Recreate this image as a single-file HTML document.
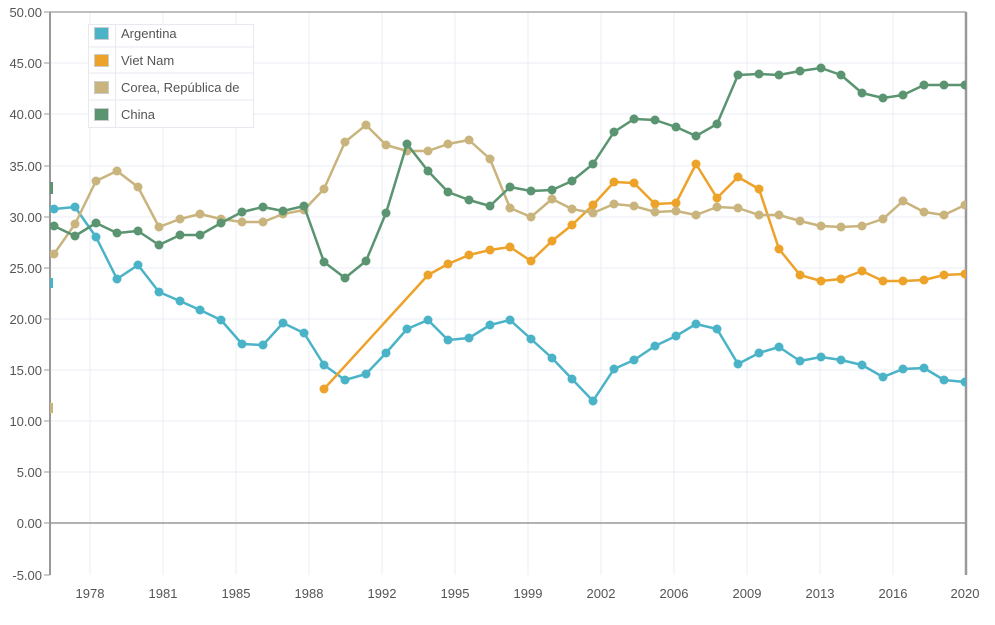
<!DOCTYPE html>
<html><head><meta charset="utf-8"><style>
html,body{margin:0;padding:0;background:#fff;}
text{font-family:"Liberation Sans","DejaVu Sans",sans-serif;font-size:13px;fill:#555;}
</style></head><body>
<svg width="995" height="620" xmlns="http://www.w3.org/2000/svg">
<defs>
<marker id="mA" markerWidth="10" markerHeight="10" refX="5" refY="5" markerUnits="userSpaceOnUse"><circle cx="5" cy="5" r="4.5" fill="#4bb3c8"/></marker>
<marker id="mV" markerWidth="10" markerHeight="10" refX="5" refY="5" markerUnits="userSpaceOnUse"><circle cx="5" cy="5" r="4.5" fill="#eda229"/></marker>
<marker id="mK" markerWidth="10" markerHeight="10" refX="5" refY="5" markerUnits="userSpaceOnUse"><circle cx="5" cy="5" r="4.5" fill="#c8b47c"/></marker>
<marker id="mC" markerWidth="10" markerHeight="10" refX="5" refY="5" markerUnits="userSpaceOnUse"><circle cx="5" cy="5" r="4.5" fill="#5a9470"/></marker>
<clipPath id="cp"><rect x="50" y="12" width="916" height="563"/></clipPath>
</defs>
<g stroke="#e8ecf4" stroke-width="1">
<line x1="50" y1="63" x2="966" y2="63"/><line x1="50" y1="114" x2="966" y2="114"/><line x1="50" y1="166" x2="966" y2="166"/><line x1="50" y1="217" x2="966" y2="217"/><line x1="50" y1="268" x2="966" y2="268"/><line x1="50" y1="319" x2="966" y2="319"/><line x1="50" y1="370" x2="966" y2="370"/><line x1="50" y1="421" x2="966" y2="421"/><line x1="50" y1="472" x2="966" y2="472"/>
<line x1="90" y1="12" x2="90" y2="575"/><line x1="163" y1="12" x2="163" y2="575"/><line x1="236" y1="12" x2="236" y2="575"/><line x1="309" y1="12" x2="309" y2="575"/><line x1="382" y1="12" x2="382" y2="575"/><line x1="455" y1="12" x2="455" y2="575"/><line x1="528" y1="12" x2="528" y2="575"/><line x1="601" y1="12" x2="601" y2="575"/><line x1="674" y1="12" x2="674" y2="575"/><line x1="747" y1="12" x2="747" y2="575"/><line x1="820" y1="12" x2="820" y2="575"/><line x1="893" y1="12" x2="893" y2="575"/>
</g>
<line x1="50" y1="523" x2="966" y2="523" stroke="#999" stroke-width="1.5"/>
<line x1="50" y1="12" x2="966" y2="12" stroke="#aaa" stroke-width="1.5"/>
<line x1="50" y1="12" x2="50" y2="575" stroke="#999" stroke-width="2"/>
<line x1="966" y1="12" x2="966" y2="575" stroke="#999" stroke-width="2.5"/>
<g stroke="#999" stroke-width="1"><line x1="44" y1="12" x2="50" y2="12"/><line x1="44" y1="63" x2="50" y2="63"/><line x1="44" y1="114" x2="50" y2="114"/><line x1="44" y1="166" x2="50" y2="166"/><line x1="44" y1="217" x2="50" y2="217"/><line x1="44" y1="268" x2="50" y2="268"/><line x1="44" y1="319" x2="50" y2="319"/><line x1="44" y1="370" x2="50" y2="370"/><line x1="44" y1="421" x2="50" y2="421"/><line x1="44" y1="472" x2="50" y2="472"/><line x1="44" y1="523" x2="50" y2="523"/><line x1="44" y1="575" x2="50" y2="575"/></g>
<g text-anchor="end">
<text x="42" y="17">50.00</text><text x="42" y="68">45.00</text><text x="42" y="119">40.00</text><text x="42" y="171">35.00</text><text x="42" y="222">30.00</text><text x="42" y="273">25.00</text><text x="42" y="324">20.00</text><text x="42" y="375">15.00</text><text x="42" y="426">10.00</text><text x="42" y="477">5.00</text><text x="42" y="528">0.00</text><text x="42" y="580">-5.00</text>
</g>
<g text-anchor="middle">
<text x="90" y="598">1978</text><text x="163" y="598">1981</text><text x="236" y="598">1985</text><text x="309" y="598">1988</text><text x="382" y="598">1992</text><text x="455" y="598">1995</text><text x="528" y="598">1999</text><text x="601" y="598">2002</text><text x="674" y="598">2006</text><text x="747" y="598">2009</text><text x="820" y="598">2013</text><text x="893" y="598">2016</text><text x="965" y="598">2020</text>
</g>
<g clip-path="url(#cp)" fill="none" stroke-width="2.5" stroke-linejoin="round">
<rect x="50" y="278" width="3" height="10" fill="#4bb3c8" stroke="none"/>
<rect x="50" y="182" width="3" height="12" fill="#5a9470" stroke="none"/>
<rect x="50" y="403" width="3" height="10" fill="#c8b47c" stroke="none"/>
<polyline stroke="#4bb3c8" marker-start="url(#mA)" marker-mid="url(#mA)" marker-end="url(#mA)" points="54,209 75,207 96,237 117,279 138,265 159,292 180,301 200,310 221,320 242,344 263,345 283,323 304,333 324,365 345,380 366,374 386,353 407,329 428,320 448,340 469,338 490,325 510,320 531,339 552,358 572,379 593,401 614,369 634,360 655,346 676,336 696,324 717,329 738,364 759,353 779,347 800,361 821,357 841,360 862,365 883,377 903,369 924,368 944,380 965,382"/>
<polyline stroke="#eda229" marker-start="url(#mV)" marker-mid="url(#mV)" marker-end="url(#mV)" points="324,389 428,275 448,264 469,255 490,250 510,247 531,261 552,241 572,225 593,205 614,182 634,183 655,204 676,203 696,164 717,198 738,177 759,189 779,249 800,275 821,281 841,279 862,271 883,281 903,281 924,280 944,275 965,274"/>
<polyline stroke="#c8b47c" marker-start="url(#mK)" marker-mid="url(#mK)" marker-end="url(#mK)" points="54,254 75,224 96,181 117,171 138,187 159,227 180,219 200,214 221,219 242,222 263,222 283,214 304,210 324,189 345,142 366,125 386,145 407,151 428,151 448,144 469,140 490,159 510,208 531,217 552,199 572,209 593,213 614,204 634,206 655,212 676,211 696,215 717,207 738,208 759,215 779,215 800,221 821,226 841,227 862,226 883,219 903,201 924,212 944,215 965,205"/>
<polyline stroke="#5a9470" marker-start="url(#mC)" marker-mid="url(#mC)" marker-end="url(#mC)" points="54,226 75,236 96,223 117,233 138,231 159,245 180,235 200,235 221,223 242,212 263,207 283,211 304,206 324,262 345,278 366,261 386,213 407,144 428,171 448,192 469,200 490,206 510,187 531,191 552,190 572,181 593,164 614,132 634,119 655,120 676,127 696,136 717,124 738,75 759,74 779,75 800,71 821,68 841,75 862,93 883,98 903,95 924,85 944,85 965,85"/>
</g>
<g>
<rect x="88.5" y="24.5" width="165" height="103" fill="#fff" stroke="#e6e9f0"/>
<line x1="88" y1="47" x2="253" y2="47" stroke="#e6e9f0"/><line x1="88" y1="73" x2="253" y2="73" stroke="#e6e9f0"/><line x1="88" y1="100" x2="253" y2="100" stroke="#e6e9f0"/>
<line x1="115.5" y1="24" x2="115.5" y2="127" stroke="#e6e9f0"/>
<rect x="94.5" y="27.5" width="14" height="12" fill="#4bb3c8" stroke="#ccc"/>
<rect x="94.5" y="54.5" width="14" height="12" fill="#eda229" stroke="#ccc"/>
<rect x="94.5" y="81.5" width="14" height="12" fill="#c8b47c" stroke="#ccc"/>
<rect x="94.5" y="108.5" width="14" height="12" fill="#5a9470" stroke="#ccc"/>
<text x="121" y="38">Argentina</text>
<text x="121" y="65">Viet Nam</text>
<text x="121" y="92">Corea, República de</text>
<text x="121" y="119">China</text>
</g>
</svg>
</body></html>
